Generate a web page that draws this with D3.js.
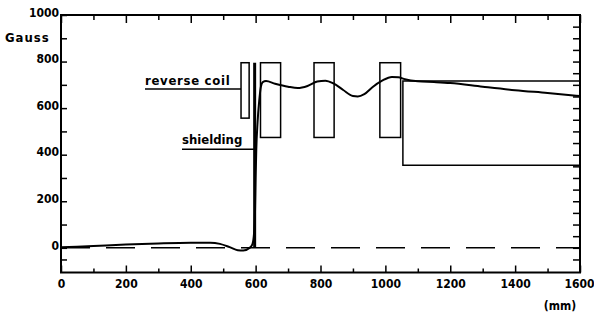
<!DOCTYPE html>
<meta charset="utf-8">
<head>
    <title>Magnetic field along the axis</title>
    <script type="text/javascript" src="https://cdn.jsdelivr.net/npm/d3@7"></script>
    <style>
        body { margin: 0; background: #fff; }
        svg text {
            font-family: "DejaVu Sans Condensed", "DejaVu Sans", sans-serif;
            font-stretch: condensed;
            font-weight: bold;
            fill: #000;
        }
        .tick line { stroke: #000; stroke-width: 1.5; }
    </style>
</head>
<body>
    <div id="chart"></div>
    <script>
        // chart data
        const xTicks = [0, 200, 400, 600, 800, 1000, 1200, 1400, 1600];
        const xMinor = [100, 300, 500, 700, 900, 1100, 1300, 1500];
        const yTicks = [0, 200, 400, 600, 800, 1000];
        const yMinor = [-50, 100, 300, 500, 700, 900];
        const yRight = d3.range(-50, 1000, 50);

        // field on axis (mm, Gauss)
        const fieldMm    = [0, 100, 200, 300, 400, 460, 490, 520, 545, 562, 580, 590, 595, 598, 600, 602, 606, 611, 616, 622, 632,
                            660, 700, 730, 760, 790, 815, 840, 870, 900, 915, 935, 960, 990, 1020, 1040, 1060, 1100, 1150, 1200,
                            1300, 1400, 1500, 1600];
        const fieldGauss = [2, 8, 14, 19, 22, 22, 17, 3, -10, -12, -2, 15, 60, 150, 300, 420, 540, 630, 690, 712, 716,
                            705, 692, 686, 695, 714, 718, 706, 678, 652, 650, 660, 690, 718, 734, 733, 724, 715, 712, 708,
                            692, 677, 665, 652];

        // coils (mm) and their height (Gauss scale)
        const coilStart = [615, 780, 983];
        const coilEnd   = [677, 842, 1047];
        const coilSpan  = [474, 795];
        const reverseCoil = [555, 580, 557, 795];   // x0, x1, y0, y1
        const shieldMm = 597;
        const shieldSpan = [0, 795];
        const yoke = [1054, 1600, 355, 716];        // x0, x1, low, high

        const width = 594, height = 312;
        const mLeft = 61, mRight = 580, mTop = 15, mBottom = 272.5;

        const svg = d3.select("#chart").append("svg")
            .attr("width", width)
            .attr("height", height);

        const x = d3.scaleLinear().domain([0, 1600]).range([mLeft, mRight]);
        const y = d3.scaleLinear().domain([-106, 1000]).range([mBottom, mTop]);

        // axes (ticks point inwards)
        svg.append("g").attr("transform", "translate(0," + mBottom + ")")
            .call(d3.axisBottom(x).tickValues(xTicks).tickSize(-7).tickSizeOuter(0).tickPadding(0).tickFormat(d3.format("d")))
            .call(g => g.select(".domain").remove())
            .call(g => g.selectAll("text").attr("y", 15.5).attr("dy", null).style("font-size", "12px")
                .attr("x", d => d === 1600 ? -1 : 0));
        svg.append("g").attr("transform", "translate(0," + mBottom + ")")
            .call(d3.axisBottom(x).tickValues(xMinor).tickSize(-4).tickSizeOuter(0).tickFormat(""))
            .call(g => g.select(".domain").remove());
        svg.append("g").attr("transform", "translate(0," + mTop + ")")
            .call(d3.axisTop(x).tickValues(xTicks).tickSize(-8).tickSizeOuter(0).tickFormat(""))
            .call(g => g.select(".domain").remove());
        svg.append("g").attr("transform", "translate(0," + mTop + ")")
            .call(d3.axisTop(x).tickValues(xMinor).tickSize(-5).tickSizeOuter(0).tickFormat(""))
            .call(g => g.select(".domain").remove());

        svg.append("g").attr("transform", "translate(" + mLeft + ",0)")
            .call(d3.axisLeft(y).tickValues(yTicks).tickSize(-6).tickSizeOuter(0).tickPadding(2).tickFormat(d3.format("d")))
            .call(g => g.select(".domain").remove())
            .call(g => g.selectAll("text").attr("dy", "0.1em").style("font-size", "12px"));
        svg.append("g").attr("transform", "translate(" + mLeft + ",0)")
            .call(d3.axisLeft(y).tickValues(yMinor).tickSize(-6).tickSizeOuter(0).tickFormat(""))
            .call(g => g.select(".domain").remove());
        svg.append("g").attr("transform", "translate(" + mRight + ",0)")
            .call(d3.axisRight(y).tickValues(yRight).tickSize(-7).tickSizeOuter(0).tickFormat(""))
            .call(g => g.select(".domain").remove());

        // frame
        svg.append("rect")
            .attr("x", mLeft).attr("y", mTop)
            .attr("width", mRight - mLeft).attr("height", mBottom - mTop)
            .attr("fill", "none").attr("stroke", "#000").attr("stroke-width", 2);

        // zero line
        svg.append("line")
            .attr("x1", x(0)).attr("x2", x(1600))
            .attr("y1", y(0)).attr("y2", y(0))
            .attr("stroke", "#000").attr("stroke-width", 1.5)
            .attr("stroke-dasharray", "29,16");

        // coils
        svg.append("g").selectAll("rect")
            .data(coilStart)
            .enter().append("rect")
            .attr("x", (d, i) => x(d))
            .attr("width", (d, i) => x(coilEnd[i]) - x(d))
            .attr("y", y(coilSpan[1]))
            .attr("height", y(coilSpan[0]) - y(coilSpan[1]))
            .attr("fill", "none").attr("stroke", "#000").attr("stroke-width", 1.5);

        svg.append("rect")
            .attr("x", x(reverseCoil[0]))
            .attr("width", x(reverseCoil[1]) - x(reverseCoil[0]))
            .attr("y", y(reverseCoil[3]))
            .attr("height", y(reverseCoil[2]) - y(reverseCoil[3]))
            .attr("fill", "none").attr("stroke", "#000").attr("stroke-width", 1.5);

        // shielding plate
        svg.append("line")
            .attr("x1", x(shieldMm)).attr("x2", x(shieldMm))
            .attr("y1", y(shieldSpan[0])).attr("y2", y(shieldSpan[1]))
            .attr("stroke", "#000").attr("stroke-width", 3);

        // yoke outline
        svg.append("path")
            .attr("d", d3.line()([
                [x(yoke[1]), y(yoke[3])], [x(yoke[0]), y(yoke[3])],
                [x(yoke[0]), y(yoke[2])], [x(yoke[1]), y(yoke[2])]
            ]))
            .attr("fill", "none").attr("stroke", "#000").attr("stroke-width", 1.5);

        // field curve
        const line = d3.line()
            .x((d, i) => x(fieldMm[i]))
            .y(d => y(d))
            .curve(d3.curveMonotoneX);
        svg.append("path")
            .attr("d", line(fieldGauss))
            .attr("fill", "none").attr("stroke", "#000").attr("stroke-width", 2);

        // labels and leaders
        svg.append("line")
            .attr("x1", 145).attr("x2", x(reverseCoil[0]))
            .attr("y1", y(682)).attr("y2", y(682))
            .attr("stroke", "#000").attr("stroke-width", 1.5);
        svg.append("text").attr("x", 145).attr("y", 85)
            .style("font-size", "13px").style("letter-spacing", "0.7px")
            .text("reverse coil");

        svg.append("line")
            .attr("x1", 182).attr("x2", x(shieldMm))
            .attr("y1", y(423)).attr("y2", y(423))
            .attr("stroke", "#000").attr("stroke-width", 1.5);
        svg.append("text").attr("x", 182).attr("y", 143.5)
            .style("font-size", "13px")
            .text("shielding");

        svg.append("text").attr("x", 5).attr("y", 42)
            .style("font-size", "13px").style("letter-spacing", "1px")
            .text("Gauss");

        svg.append("text").attr("x", 560).attr("y", 310)
            .attr("text-anchor", "middle")
            .style("font-size", "12px")
            .text("(mm)");
    </script>
</body>
</html>
